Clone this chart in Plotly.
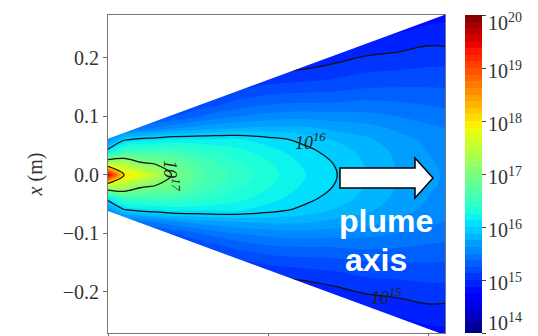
import numpy as np
import plotly.graph_objects as go

# ---------------- data ----------------
# axial positions z (m) and radial positions |x| (m) of the sampled density map
z_axial = [0.0, 0.025, 0.05, 0.075, 0.10, 0.15, 0.20, 0.25, 0.30, 0.35, 0.40, 0.45, 0.50, 0.55]
x_radial = [0.0, 0.02, 0.04, 0.06, 0.08, 0.10, 0.12, 0.15, 0.18, 0.21, 0.24, 0.28]

# log10 of plasma density (m^-3); one row per axial position, columns follow x_radial
logn_z000 = [19.60, 17.40, 16.10, 15.60, 15.20, 15.00, 14.90, 14.80, 14.70, 14.60, 14.50, 14.40]
logn_z025 = [18.00, 17.35, 16.50, 15.98, 15.40, 15.10, 14.95, 14.85, 14.75, 14.65, 14.55, 14.45]
logn_z050 = [17.75, 17.05, 16.55, 16.06, 15.45, 15.15, 15.00, 14.90, 14.80, 14.70, 14.60, 14.50]
logn_z075 = [17.40, 16.95, 16.55, 16.10, 15.52, 15.20, 15.02, 14.92, 14.82, 14.72, 14.62, 14.52]
logn_z100 = [16.98, 16.85, 16.55, 16.15, 15.60, 15.25, 15.05, 14.95, 14.85, 14.75, 14.65, 14.55]
logn_z150 = [16.65, 16.58, 16.42, 16.15, 15.70, 15.40, 15.20, 15.00, 14.90, 14.80, 14.70, 14.60]
logn_z200 = [16.45, 16.40, 16.30, 16.15, 15.75, 15.50, 15.30, 15.10, 14.95, 14.85, 14.75, 14.65]
logn_z250 = [16.30, 16.26, 16.18, 16.06, 15.78, 15.55, 15.38, 15.15, 14.98, 14.88, 14.78, 14.68]
logn_z300 = [16.15, 16.12, 16.06, 15.97, 15.78, 15.58, 15.40, 15.18, 15.00, 14.88, 14.78, 14.68]
logn_z350 = [16.02, 16.00, 15.95, 15.87, 15.72, 15.56, 15.40, 15.20, 15.04, 14.92, 14.82, 14.72]
logn_z400 = [15.88, 15.87, 15.84, 15.78, 15.68, 15.55, 15.42, 15.24, 15.10, 14.97, 14.86, 14.75]
logn_z450 = [15.75, 15.74, 15.72, 15.68, 15.60, 15.50, 15.40, 15.25, 15.12, 15.00, 14.88, 14.77]
logn_z500 = [15.65, 15.64, 15.62, 15.59, 15.53, 15.45, 15.37, 15.25, 15.14, 15.04, 14.93, 14.80]
logn_z550 = [15.58, 15.57, 15.55, 15.52, 15.47, 15.41, 15.34, 15.24, 15.14, 15.02, 14.92, 14.84]

# plume cone boundary (half width vs z)
cone_z = [0.0, 0.525]
cone_half = [0.062, 0.274]

# contour lines drawn and colourbar ticks
line_levels = [15, 16, 17, 18]
cbar_exps = [14, 15, 16, 17, 18, 19, 20]
y_ticks = [-0.2, -0.1, 0.0, 0.1, 0.2]
x_ticks = [0.0, 0.25, 0.5]

# ---------------- build field ----------------
rows = np.array([logn_z000, logn_z025, logn_z050, logn_z075, logn_z100, logn_z150, logn_z200,
                 logn_z250, logn_z300, logn_z350, logn_z400, logn_z450, logn_z500, logn_z550])
xr = np.array(x_radial)
y_full = np.concatenate([-xr[::-1], xr[1:]])
field = np.concatenate([rows[:, ::-1], rows[:, 1:]], axis=1).T  # shape (ny, nz)

# matplotlib "jet" colormap
stops = [0, 0.11, 0.125, 0.34, 0.35, 0.375, 0.64, 0.65, 0.66, 0.89, 0.91, 1.0]
def jet(t):
    r = np.interp(t, [0, 0.35, 0.66, 0.89, 1], [0, 0, 1, 1, 0.5])
    g = np.interp(t, [0, 0.125, 0.375, 0.64, 0.91, 1], [0, 0, 1, 1, 0, 0])
    b = np.interp(t, [0, 0.11, 0.34, 0.65, 1], [0.5, 1, 1, 0, 0])
    return f"rgb({int(round(r*255))},{int(round(g*255))},{int(round(b*255))})"
jet_scale = [[t, jet(t)] for t in stops]

serif = "Liberation Serif"
cmin, cmax = cbar_exps[0], cbar_exps[-1]

fig = go.Figure()
fig.add_trace(go.Contour(
    x=z_axial, y=y_full, z=field,
    zmin=cmin, zmax=cmax, colorscale=jet_scale,
    contours=dict(start=cmin, end=cmax, size=0.125, coloring="fill"),
    line=dict(width=0, smoothing=1.0),
    colorbar=dict(
        tickmode="array", tickvals=cbar_exps, showticklabels=False,
        thickness=17, len=1.0, lenmode="fraction", y=0.5, yanchor="middle",
        x=(465 - 108) / 337, xanchor="left", xpad=0, ypad=0,
        outlinewidth=0, ticks="outside", ticklen=4, tickcolor="#444",
    ),
    hoverinfo="skip",
))
fig.add_trace(go.Contour(
    x=z_axial, y=y_full, z=field,
    contours=dict(start=line_levels[0], end=line_levels[-1], size=1, coloring="none"),
    line=dict(width=1.3, color="#111", smoothing=1.0),
    showscale=False, hoverinfo="skip",
))

# white masks outside the plume cone
zc = np.array(cone_z); hc = np.array(cone_half)
fig.add_trace(go.Scatter(
    x=[zc[0], zc[1], zc[1], zc[0], zc[0]],
    y=[hc[0], hc[1], 1.0, 1.0, hc[0]],
    fill="toself", fillcolor="white", line=dict(width=0), mode="lines",
    hoverinfo="skip", showlegend=False))
fig.add_trace(go.Scatter(
    x=[zc[0], zc[1], zc[1], zc[0], zc[0]],
    y=[-hc[0], -hc[1], -1.0, -1.0, -hc[0]],
    fill="toself", fillcolor="white", line=dict(width=0), mode="lines",
    hoverinfo="skip", showlegend=False))

# contour labels
def px2data(px, py):
    return (px - 108) / 642.0, (175 - py) / 585.0

annos = []
for txt, (px, py), ang in [("10<sup>16</sup>", (311, 142), 0),
                           ("10<sup>17</sup>", (171, 176), 90),
                           ("10<sup>15</sup>", (387, 297), 0)]:
    dx, dy = px2data(px, py)
    annos.append(dict(x=dx, y=dy, xref="x", yref="y", text=f"<i>{txt}</i>",
                      showarrow=False, textangle=ang,
                      font=dict(family=serif, size=18, color="#222")))

# colourbar tick labels (the bar spans the plot height)
cb_label_x = (486 - 108) / 337
for e in cbar_exps:
    frac = (e - cmin) / (cmax - cmin)
    if e == cmax:
        anchor, shift = "top", 7
    elif e == cmin:
        anchor, shift = "bottom", -3
    else:
        anchor, shift = "middle", -2
    annos.append(dict(x=cb_label_x, y=frac, xref="paper", yref="paper",
                      text=f"10<sup>{e}</sup>", showarrow=False,
                      xanchor="left", yanchor=anchor, yshift=shift,
                      font=dict(family=serif, size=20, color="#333")))

# plume axis text (positions relative to the plot area, in reference pixels)
def pp(px, py):
    return (px - 108) / 337.0, (333 - py) / 318.0
for txt, (px, py) in [("plume", (386, 221)), ("axis", (376, 260))]:
    ax_, ay_ = pp(px, py)
    annos.append(dict(x=ax_, y=ay_, xref="paper", yref="paper", text=f"<b>{txt}</b>",
                      showarrow=False, xanchor="center", yanchor="middle",
                      font=dict(family="Liberation Sans", size=32, color="white")))

# block arrow
pts = [(340, 168), (415, 168), (415, 158), (433, 178), (415, 198), (415, 188), (340, 188)]
path = ""
for i, (px, py) in enumerate(pts):
    a, b = pp(px, py)
    path += ("M" if i == 0 else "L") + f"{a:.4f},{b:.4f} "
path += "Z"
shapes = [dict(type="path", path=path, xref="paper", yref="paper",
               fillcolor="white", line=dict(color="black", width=1.5))]

# page body has an 8px margin: figure is 530x328 so it fills the 538x336 window
fig.update_layout(
    width=530, height=328,
    margin=dict(l=100, r=93, t=7, b=3, autoexpand=False),
    paper_bgcolor="white", plot_bgcolor="white",
    showlegend=False,
    annotations=annos, shapes=shapes,
    font=dict(family=serif, color="#333"),
)
fig.update_xaxes(range=[0, 0.525], tickvals=x_ticks, showticklabels=False,
                 ticks="outside", ticklen=4, tickcolor="#666",
                 showline=True, linecolor="#777", linewidth=1, mirror=True,
                 showgrid=False, zeroline=False)
fig.update_yaxes(range=[-0.2705, 0.2735], tickvals=y_ticks, tickformat=".1f",
                 ticks="outside", ticklen=4, tickcolor="#666",
                 tickfont=dict(family=serif, size=20, color="#333"),
                 title=dict(text="<i>x</i> (m)", font=dict(family=serif, size=20, color="#333"),
                            standoff=14),
                 showline=True, linecolor="#777", linewidth=1, mirror=True,
                 showgrid=False, zeroline=False)

fig.write_html("out.html")
